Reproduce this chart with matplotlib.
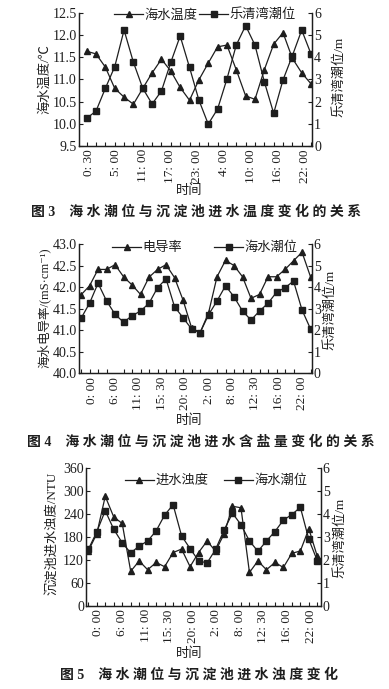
import numpy as np
import matplotlib
matplotlib.use("Agg")
import matplotlib.pyplot as plt

plt.rcParams['font.family'] = ['Liberation Serif', 'Noto Sans CJK SC', 'DejaVu Sans']
plt.rcParams['axes.unicode_minus'] = False

# ---- figure 3: sea temperature vs tide
labels1 = ['0: 30', '5: 00', '11: 00', '17: 00', '23: 00', '4: 00', '10: 00', '16: 00', '22: 00']
temp = [11.64, 11.58, 11.28, 10.80, 10.60, 10.44, 10.80, 11.15, 11.46, 11.19, 10.82, 10.53, 10.99,
        11.37, 11.74, 11.78, 11.22, 10.63, 10.55, 11.22, 11.80, 12.06, 11.48, 11.15, 10.90]
tide1 = [1.24, 1.57, 2.60, 3.58, 5.24, 3.78, 2.60, 1.89, 2.48, 3.78, 4.97, 3.55, 2.07,
         0.98, 1.66, 3.02, 4.56, 5.44, 4.56, 2.90, 1.47, 2.98, 4.08, 5.24, 4.15]

# ---- figure 4: conductivity vs tide
labels2 = ['0: 00', '6: 00', '11: 00', '15: 30', '20: 00', '2: 00', '8: 00', '12: 30', '16: 00', '22: 00']
cond = [41.82, 42.03, 42.41, 42.41, 42.52, 42.24, 42.05, 41.83, 42.23, 42.41, 42.52, 42.22, 41.70, 41.06,
        40.94, 41.40, 42.24, 42.62, 42.50, 42.24, 41.74, 41.83, 42.24, 42.24, 42.41, 42.61, 42.81, 42.24]
tide2 = [2.55, 3.25, 4.18, 3.36, 2.74, 2.37, 2.67, 2.89, 3.25, 3.97, 4.38, 3.09, 2.58, 2.06,
         1.88, 2.71, 3.36, 4.06, 3.55, 2.89, 2.47, 2.89, 3.25, 3.76, 3.97, 4.28, 2.94, 2.06]

# ---- figure 5: turbidity vs tide
labels3 = labels2
turb = [143, 188, 286, 232, 215, 90, 117, 94, 113, 102, 139, 148, 102, 139,
        169, 143, 187, 260, 256, 87, 117, 94, 113, 100, 137, 143, 201, 129]
tide3 = [2.45, 3.22, 4.14, 3.33, 2.74, 2.30, 2.60, 2.82, 3.26, 3.95, 4.40, 3.04, 2.49, 1.96,
         1.86, 2.45, 3.29, 4.03, 3.53, 2.82, 2.37, 2.82, 3.23, 3.73, 3.97, 4.29, 2.89, 1.96]

W, H = 389, 689
fig = plt.figure(figsize=(W / 100, H / 100), dpi=100)
ink = '#1e1e1e'


def fx(x):
    return x / W


def fy(y):
    return 1 - y / H


def panel(box, left, right, lname, rname, ylim, yticks, fmt, labels, labpos, xlim,
          legpos, colsp, yl_left, yl_right, xl_y, cap, cap_y, cap_x):
    x0, y0, x1, y1 = box
    ax = fig.add_axes([fx(x0), fy(y1), fx(x1 - x0), (y1 - y0) / H])
    ax2 = ax.twinx()
    n = np.arange(len(left))
    l1, = ax.plot(n, left, color=ink, lw=0.9, marker='^', ms=5, mfc=ink, mec=ink)
    l2, = ax2.plot(n, right, color=ink, lw=0.9, marker='s', ms=4.8, mfc=ink, mec=ink)
    ax.set_xlim(*xlim)
    ax.set_ylim(*ylim)
    ax.set_yticks(yticks)
    ax.set_yticklabels([fmt % v for v in yticks])
    ax2.set_ylim(0, 6)
    ax2.set_yticks(range(7))
    ax.set_xticks(labpos)
    ax.set_xticklabels(labels, rotation=90, fontsize=9.5)
    ax.set_xticks(n, minor=True)
    ax.tick_params(axis='x', which='major', length=0, pad=2.5, colors=ink)
    ax.tick_params(axis='x', which='minor', direction='in', length=3, width=0.8, color=ink)
    ax.tick_params(axis='y', direction='in', length=3, width=0.8, pad=1.5, labelsize=10, colors=ink)
    ax2.tick_params(axis='y', direction='in', length=3, width=0.8, pad=1.5, labelsize=10, colors=ink)
    for a in (ax, ax2):
        a.spines['top'].set_visible(False)
        for s in ('left', 'right', 'bottom'):
            a.spines[s].set_linewidth(0.9)
            a.spines[s].set_color(ink)
    leg = ax2.legend([l1, l2], [lname, rname], loc='center', ncol=2, frameon=False,
                     bbox_to_anchor=(fx(legpos[0]), fy(legpos[1])), bbox_transform=fig.transFigure,
                     fontsize=9.5, handlelength=2.2, handletextpad=0.1, columnspacing=colsp,
                     borderpad=0, borderaxespad=0)
    for t in leg.get_texts():
        t.set_color(ink)
    fig.text(fx(yl_left[0]), fy(yl_left[1]), yl_left[2], rotation=90, ha='center', va='center',
             fontsize=yl_left[3], color=ink)
    fig.text(fx(yl_right[0]), fy(yl_right[1]), '乐清湾潮位/m', rotation=90, ha='center', va='center',
             fontsize=9.5, color=ink)
    fig.text(fx(189), fy(xl_y), '时间', ha='center', va='center', fontsize=9.5, color=ink)
    fig.text(fx(cap_x), fy(cap_y), cap, ha='center', va='center', fontsize=10, color=ink,
             fontweight='bold')


def spaced(num, s):
    return '图 ' + num + '    ' + ' '.join(s)


panel((79, 13.3, 312, 145.7), temp, tide1, '海水温度', '乐清湾潮位',
      (9.5, 12.5), np.arange(9.5, 12.51, 0.5), '%.1f', labels1, np.linspace(0.25, 23.3, 9),
      (-0.82, 24.1), (205, 15), 0.1, (45, 79, '海水温度/℃', 9.5), (339, 77), 191,
      spaced('3', '海水潮位与沉淀池进水温度变化的关系'), 212, 196)

panel((79, 244, 311.7, 373.3), cond, tide2, '电导率', '海水潮位',
      (40, 43), np.arange(40, 43.01, 0.5), '%.1f', labels2, np.linspace(1.25, 26.0, 10),
      (-0.24, 27.14), (205, 248), 2.4, (44, 308, '海水电导率/(mS·cm⁻¹)', 9), (330, 310), 421,
      spaced('4', '海水潮位与沉淀池进水含盐量变化的关系'), 441.5, 201)

panel((86, 468, 320.7, 605.7), turb, tide3, '进水浊度', '海水潮位',
      (0, 360), np.arange(0, 361, 60), '%d', labels3, np.linspace(1.2, 26.2, 10),
      (-0.27, 27.4), (216, 481), 1.2, (52, 533, '沉淀池进水浊度/NTU', 9.5), (340, 538), 654,
      spaced('5', '海水潮位与沉淀池进水浊度变化'), 675, 199)

fig.savefig('out.png', dpi=100)
